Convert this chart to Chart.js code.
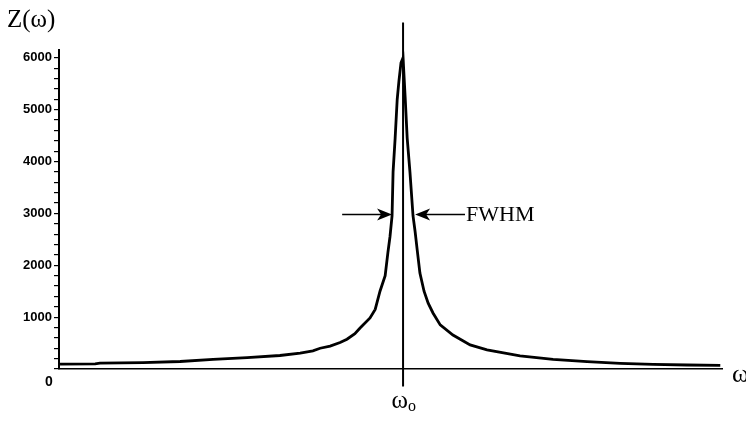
<!DOCTYPE html>
<html>
<head>
<meta charset="utf-8">
<script src="https://cdn.jsdelivr.net/npm/chart.js@4/dist/chart.umd.min.js"></script>
<style>
  html, body { margin: 0; padding: 0; background: #ffffff; }
  #wrap { width: 746px; height: 423px; }
</style>
</head>
<body>
<div id="wrap"><canvas id="c" width="746" height="423"></canvas></div>
<script>
// ---- data (ω in units of ω0, Z) ----
const omega = [0.003, 0.105, 0.119, 0.244, 0.352, 0.448, 0.547, 0.642, 0.701, 0.738,
  0.759, 0.788, 0.817, 0.837, 0.860, 0.875, 0.904, 0.919, 0.933, 0.948,
  0.956, 0.962, 0.968, 0.971, 0.977, 0.983, 0.988, 0.994, 1.000,
  1.006, 1.012, 1.020, 1.029, 1.035, 1.041, 1.049, 1.061, 1.073, 1.087,
  1.108, 1.145, 1.195, 1.244, 1.340, 1.436, 1.535, 1.631, 1.727, 1.826, 1.922];
const impedance = [95, 100, 112, 122, 145, 187, 220, 260, 305, 350,
  400, 440, 510, 575, 680, 790, 985, 1150, 1500, 1800,
  2250, 2550, 2950, 3800, 4450, 5200, 5550, 5900, 6000,
  5250, 4450, 3800, 2950, 2650, 2300, 1850, 1500, 1270, 1080,
  850, 655, 465, 367, 252, 187, 141, 110, 91, 77, 68];
const resonance = 1.0;
const resonanceLineZ = [-335, 6680];
const yTickValues = [0, 200, 400, 600, 800, 1000, 1200, 1400, 1600, 1800, 2000,
  2200, 2400, 2600, 2800, 3000, 3200, 3400, 3600, 3800, 4000,
  4200, 4400, 4600, 4800, 5000, 5200, 5400, 5600, 5800, 6000];
const yMajorLabels = [1000, 2000, 3000, 4000, 5000, 6000];
const xTickLabels = ['0'];
const fwhmLevel = 2980;
const leftArrow = [0.823, 0.968];   // tail, tip
const rightArrow = [1.180, 1.035];  // tail, tip
const fwhmText = 'FWHM';
const fwhmTextAt = 1.183;

const serif = '"Liberation Serif", "Times New Roman", serif';
const sans = '"Liberation Sans", Arial, sans-serif';

const annotate = {
  id: 'annotate',
  afterDatasetsDraw(chart) {
    const ctx = chart.ctx;
    const xs = chart.scales.x, ys = chart.scales.y;
    ctx.save();
    ctx.fillStyle = '#000';
    ctx.strokeStyle = '#000';
    // arrows
    const ay = ys.getPixelForValue(fwhmLevel);
    function arrow(tail, tip) {
      const t0 = xs.getPixelForValue(tail), t1 = xs.getPixelForValue(tip);
      const d = t1 > t0 ? 1 : -1;
      ctx.lineWidth = 1.6;
      ctx.beginPath();
      ctx.moveTo(t0, ay);
      ctx.lineTo(t1 - d * 8, ay);
      ctx.stroke();
      ctx.beginPath();
      ctx.moveTo(t1, ay);
      ctx.lineTo(t1 - d * 15, ay - 6);
      ctx.lineTo(t1 - d * 11, ay);
      ctx.lineTo(t1 - d * 15, ay + 6);
      ctx.closePath();
      ctx.fill();
    }
    arrow(leftArrow[0], leftArrow[1]);
    arrow(rightArrow[0], rightArrow[1]);
    ctx.font = '22px ' + serif;
    ctx.textBaseline = 'middle';
    ctx.textAlign = 'left';
    ctx.fillText(fwhmText, xs.getPixelForValue(fwhmTextAt), ay + 1);

    // axis titles
    ctx.textBaseline = 'alphabetic';
    ctx.font = '25px ' + serif;
    ctx.fillText('Z(ω)', 7, 27);
    ctx.font = '26px ' + serif;
    ctx.fillText('ω', xs.right + 10, ys.bottom + 13);
    // ω0 label
    const rx = xs.getPixelForValue(resonance);
    ctx.font = '25px ' + serif;
    ctx.textAlign = 'right';
    ctx.fillText('ω', rx + 5, ys.bottom + 39);
    ctx.textAlign = 'left';
    ctx.font = '16px ' + serif;
    ctx.fillText('o', rx + 5, ys.bottom + 42);
    ctx.restore();
  }
};

new Chart(document.getElementById('c'), {
  type: 'line',
  data: {
    datasets: [
      {
        data: omega.map((w, i) => ({ x: w, y: impedance[i] })),
        borderColor: '#000',
        borderWidth: 2.8,
        pointRadius: 0,
        tension: 0,
        fill: false
      },
      {
        data: resonanceLineZ.map(z => ({ x: resonance, y: z })),
        borderColor: '#000',
        borderWidth: 2,
        pointRadius: 0,
        fill: false,
        clip: false
      }
    ]
  },
  options: {
    responsive: false,
    devicePixelRatio: 1,
    animation: false,
    events: [],
    layout: { padding: { left: 0, right: 24, top: 50, bottom: 0 } },
    plugins: { legend: { display: false }, tooltip: { enabled: false }, title: { display: false } },
    scales: {
      x: {
        type: 'linear',
        min: 0,
        max: 1.927,
        afterBuildTicks: s => { s.ticks = [{ value: 0 }]; },
        afterFit: s => { s.height = 54; },
        ticks: {
          callback: (v, i) => xTickLabels[i] || '',
          font: { family: sans, size: 14, weight: 'bold' },
          color: '#000',
          padding: -3,
          labelOffset: -10,
          maxRotation: 0
        },
        grid: { display: false },
        border: { display: true, color: '#000', width: 1.5 }
      },
      y: {
        type: 'linear',
        min: 0,
        max: 6150,
        afterBuildTicks: s => { s.ticks = yTickValues.map(v => ({ value: v })); },
        afterFit: s => { s.width = 59; },
        ticks: {
          callback: v => yMajorLabels.includes(v) ? String(v) : '',
          font: { family: sans, size: 13, weight: 'bold' },
          color: '#000',
          padding: 2,
          autoSkip: false
        },
        grid: { display: true, drawOnChartArea: false, drawTicks: true, tickLength: 5, color: '#000', lineWidth: 1.2 },
        border: { display: true, color: '#000', width: 2 }
      }
    }
  },
  plugins: [annotate]
});
</script>
</body>
</html>
